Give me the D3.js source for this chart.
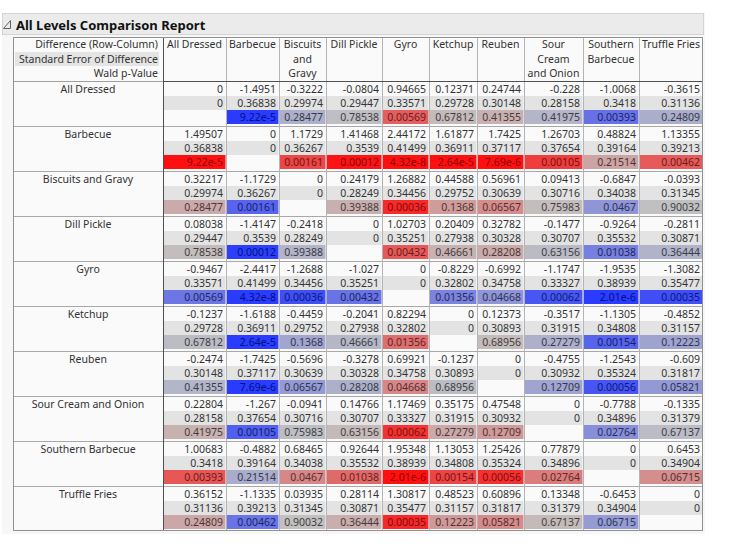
<!DOCTYPE html>
<html>
<head>
<meta charset="utf-8">
<script src="https://cdn.jsdelivr.net/npm/d3@7"></script>
<style>
  body { margin: 0; background: #fff; }
  text { font-family: "Noto Sans", "Open Sans", sans-serif; }
</style>
</head>
<body>
<script>
// catégories (lignes et colonnes)
const categories = ["All Dressed", "Barbecue", "Biscuits and Gravy", "Dill Pickle", "Gyro",
  "Ketchup", "Reuben", "Sour Cream and Onion", "Southern Barbecue", "Truffle Fries"];

// en-têtes de colonnes (sur plusieurs lignes)
const colHeaders = [["All Dressed"], ["Barbecue"], ["Biscuits", "and", "Gravy"], ["Dill Pickle"],
  ["Gyro"], ["Ketchup"], ["Reuben"], ["Sour", "Cream", "and Onion"], ["Southern", "Barbecue"], ["Truffle Fries"]];

const legendLines = ["Difference (Row-Column)", "Standard Error of Difference", "Wald p-Value"];

// Difference (ligne - colonne)
const diff = [
  [0, -1.4951, -0.3222, -0.0804, 0.94665, 0.12371, 0.24744, -0.228, -1.0068, -0.3615],
  [1.49507, 0, 1.1729, 1.41468, 2.44172, 1.61877, 1.7425, 1.26703, 0.48824, 1.13355],
  [0.32217, -1.1729, 0, 0.24179, 1.26882, 0.44588, 0.56961, 0.09413, -0.6847, -0.0393],
  [0.08038, -1.4147, -0.2418, 0, 1.02703, 0.20409, 0.32782, -0.1477, -0.9264, -0.2811],
  [-0.9467, -2.4417, -1.2688, -1.027, 0, -0.8229, -0.6992, -1.1747, -1.9535, -1.3082],
  [-0.1237, -1.6188, -0.4459, -0.2041, 0.82294, 0, 0.12373, -0.3517, -1.1305, -0.4852],
  [-0.2474, -1.7425, -0.5696, -0.3278, 0.69921, -0.1237, 0, -0.4755, -1.2543, -0.609],
  [0.22804, -1.267, -0.0941, 0.14766, 1.17469, 0.35175, 0.47548, 0, -0.7788, -0.1335],
  [1.00683, -0.4882, 0.68465, 0.92644, 1.95348, 1.13053, 1.25426, 0.77879, 0, 0.6453],
  [0.36152, -1.1335, 0.03935, 0.28114, 1.30817, 0.48523, 0.60896, 0.13348, -0.6453, 0]
];

// Standard Error of Difference
const stdErr = [
  [0, 0.36838, 0.29974, 0.29447, 0.33571, 0.29728, 0.30148, 0.28158, 0.3418, 0.31136],
  [0.36838, 0, 0.36267, 0.3539, 0.41499, 0.36911, 0.37117, 0.37654, 0.39164, 0.39213],
  [0.29974, 0.36267, 0, 0.28249, 0.34456, 0.29752, 0.30639, 0.30716, 0.34038, 0.31345],
  [0.29447, 0.3539, 0.28249, 0, 0.35251, 0.27938, 0.30328, 0.30707, 0.35532, 0.30871],
  [0.33571, 0.41499, 0.34456, 0.35251, 0, 0.32802, 0.34758, 0.33327, 0.38939, 0.35477],
  [0.29728, 0.36911, 0.29752, 0.27938, 0.32802, 0, 0.30893, 0.31915, 0.34808, 0.31157],
  [0.30148, 0.37117, 0.30639, 0.30328, 0.34758, 0.30893, 0, 0.30932, 0.35324, 0.31817],
  [0.28158, 0.37654, 0.30716, 0.30707, 0.33327, 0.31915, 0.30932, 0, 0.34896, 0.31379],
  [0.3418, 0.39164, 0.34038, 0.35532, 0.38939, 0.34808, 0.35324, 0.34896, 0, 0.34904],
  [0.31136, 0.39213, 0.31345, 0.30871, 0.35477, 0.31157, 0.31817, 0.31379, 0.34904, 0]
];

// Wald p-Value (null sur la diagonale)
const pValue = [
  [null, 9.22e-5, 0.28477, 0.78538, 0.00569, 0.67812, 0.41355, 0.41975, 0.00393, 0.24809],
  [9.22e-5, null, 0.00161, 0.00012, 4.32e-8, 2.64e-5, 7.69e-6, 0.00105, 0.21514, 0.00462],
  [0.28477, 0.00161, null, 0.39388, 0.00036, 0.1368, 0.06567, 0.75983, 0.0467, 0.90032],
  [0.78538, 0.00012, 0.39388, null, 0.00432, 0.46661, 0.28208, 0.63156, 0.01038, 0.36444],
  [0.00569, 4.32e-8, 0.00036, 0.00432, null, 0.01356, 0.04668, 0.00062, 2.01e-6, 0.00035],
  [0.67812, 2.64e-5, 0.1368, 0.46661, 0.01356, null, 0.68956, 0.27279, 0.00154, 0.12223],
  [0.41355, 7.69e-6, 0.06567, 0.28208, 0.04668, 0.68956, null, 0.12709, 0.00056, 0.05821],
  [0.41975, 0.00105, 0.75983, 0.63156, 0.00062, 0.27279, 0.12709, null, 0.02764, 0.67137],
  [0.00393, 0.21514, 0.0467, 0.01038, 2.01e-6, 0.00154, 0.00056, 0.02764, null, 0.06715],
  [0.24809, 0.00462, 0.90032, 0.36444, 0.00035, 0.12223, 0.05821, 0.67137, 0.06715, null]
];

const W = 752, H = 553;
const tableLeft = 13, labelRight = 163, tableRight = 703;
const headTop = 37, headBottom = 81, tableBottom = 531;
const colWidths = [63, 53, 47, 56, 47, 48, 47, 59, 56, 64];
const colEdges = colWidths.map((w, i) => labelRight + d3.sum(colWidths.slice(0, i)));

// échelles
const x = d3.scaleOrdinal().domain(categories).range(colEdges);
const cw = d3.scaleOrdinal().domain(categories).range(colWidths);
const y = d3.scaleBand().domain(categories).range([headBottom, tableBottom]);
const line = d3.scaleBand().domain([0, 1, 2]).range([1, 43]);

const grey = "#c2c2c2";
const toRed = d3.interpolateRgb(grey, "#ff1010");
const toBlue = d3.interpolateRgb(grey, "#2a3cff");
const txtRed = d3.interpolateRgb("#404040", "#8a0000");
const txtBlue = d3.interpolateRgb("#404040", "#00107a");
const strength = d3.scaleLinear().domain([0, 4]).range([0, 1]).clamp(true);

const fmtP = p => p < 1e-4 ? p.toExponential(2) : String(p);

const svg = d3.select("body").append("svg")
  .attr("width", W).attr("height", H)
  .style("display", "block");

// fond du rapport
svg.append("rect").attr("x", 2).attr("y", 13).attr("width", 703).attr("height", 521)
  .attr("fill", "#f7f7f7");

// barre de titre
svg.append("rect").attr("x", 2.5).attr("y", 13.5).attr("width", 701).attr("height", 21)
  .attr("fill", "#ebebeb").attr("stroke", "#d4d4d4");
svg.append("path").attr("d", "M10.5,20.5 L10.5,28.5 L3.5,28.5 Z")
  .attr("fill", "none").attr("stroke", "#606060");
svg.append("text").attr("x", 16).attr("y", 29.5)
  .attr("font-size", 13).attr("font-weight", "bold").attr("fill", "#111")
  .text("All Levels Comparison Report");

// fond du tableau
svg.append("rect").attr("x", tableLeft).attr("y", headTop)
  .attr("width", tableRight - tableLeft).attr("height", tableBottom - headTop)
  .attr("fill", "#fafafa");

// légende (coin haut gauche)
svg.append("rect").attr("x", tableLeft + 2).attr("y", headTop + 15)
  .attr("width", labelRight - tableLeft - 6).attr("height", 14).attr("fill", "#e4e4e4");
svg.selectAll(".legend").data(legendLines).join("text")
  .attr("x", labelRight - 5)
  .attr("y", (d, i) => headTop + 11 + i * 14.5)
  .attr("text-anchor", "end").attr("font-size", 10.5).attr("fill", "#333")
  .text(d => d);

// en-têtes de colonnes
categories.forEach((c, j) => {
  svg.append("g").selectAll("text").data(colHeaders[j]).join("text")
    .attr("x", x(c) + cw(c) / 2)
    .attr("y", (d, i) => headTop + 11 + i * 14.5)
    .attr("text-anchor", "middle").attr("font-size", 10.5).attr("fill", "#333")
    .text(d => d);
});

// étiquettes de lignes
svg.selectAll(".rowlab").data(categories).join("text")
  .attr("x", (tableLeft + labelRight) / 2)
  .attr("y", d => y(d) + line(0) + 10.5)
  .attr("text-anchor", "middle").attr("font-size", 10.5).attr("fill", "#333")
  .text(d => d);

// cellules
const cells = [];
categories.forEach((r, i) => categories.forEach((c, j) => {
  cells.push({ r, c, d: diff[i][j], se: stdErr[i][j], p: pValue[i][j] });
}));

const g = svg.append("g");
const cell = g.selectAll("g").data(cells).join("g")
  .attr("transform", d => `translate(${x(d.c)},${y(d.r)})`);

// fond SE
cell.append("rect").attr("x", 0.5).attr("y", line(1))
  .attr("width", d => cw(d.c) - 1).attr("height", line.bandwidth())
  .attr("fill", "#e3e3e3");

// fond p-value
cell.filter(d => d.p !== null).append("rect").attr("x", 0.5).attr("y", line(2))
  .attr("width", d => cw(d.c) - 1).attr("height", line.bandwidth())
  .attr("fill", d => {
    const t = strength(-Math.log10(d.p));
    return d.d >= 0 ? toRed(t) : toBlue(t);
  });

cell.append("text").attr("x", d => cw(d.c) - 3).attr("y", line(0) + 10.5)
  .attr("text-anchor", "end").attr("font-size", 10.5).attr("fill", "#333")
  .text(d => String(d.d));
cell.append("text").attr("x", d => cw(d.c) - 3).attr("y", line(1) + 10.5)
  .attr("text-anchor", "end").attr("font-size", 10.5).attr("fill", "#333")
  .text(d => String(d.se));
cell.filter(d => d.p !== null).append("text")
  .attr("x", d => cw(d.c) - 3).attr("y", line(2) + 10.5)
  .attr("text-anchor", "end").attr("font-size", 10.5)
  .attr("fill", d => {
    const t = strength(-Math.log10(d.p));
    return d.d >= 0 ? txtRed(t) : txtBlue(t);
  })
  .text(d => fmtP(d.p));

// séparateurs horizontaux entre groupes
svg.selectAll(".hsep").data(categories.slice(1)).join("line")
  .attr("x1", tableLeft).attr("x2", tableRight)
  .attr("y1", d => y(d) + 0.5).attr("y2", d => y(d) + 0.5)
  .attr("stroke", "#a8a8a8");

// séparateurs verticaux
svg.selectAll(".vsep").data(categories.slice(1)).join("line")
  .attr("x1", d => x(d) + 0.5).attr("x2", d => x(d) + 0.5)
  .attr("y1", headTop).attr("y2", tableBottom)
  .attr("stroke", "#b4b4b4");

// bordures
svg.append("line").attr("x1", tableLeft).attr("x2", labelRight)
  .attr("y1", headBottom + 0.5).attr("y2", headBottom + 0.5).attr("stroke", "#a0a0a0");
svg.append("line").attr("x1", labelRight).attr("x2", tableRight)
  .attr("y1", headBottom + 0.5).attr("y2", headBottom + 0.5).attr("stroke", "#505050");
svg.append("line").attr("x1", labelRight + 0.5).attr("x2", labelRight + 0.5)
  .attr("y1", headTop).attr("y2", tableBottom).attr("stroke", "#505050");
svg.append("rect").attr("x", tableLeft + 0.5).attr("y", headTop + 0.5)
  .attr("width", tableRight - tableLeft - 1).attr("height", tableBottom - headTop - 1)
  .attr("fill", "none").attr("stroke", "#909090");
</script>
</body>
</html>
